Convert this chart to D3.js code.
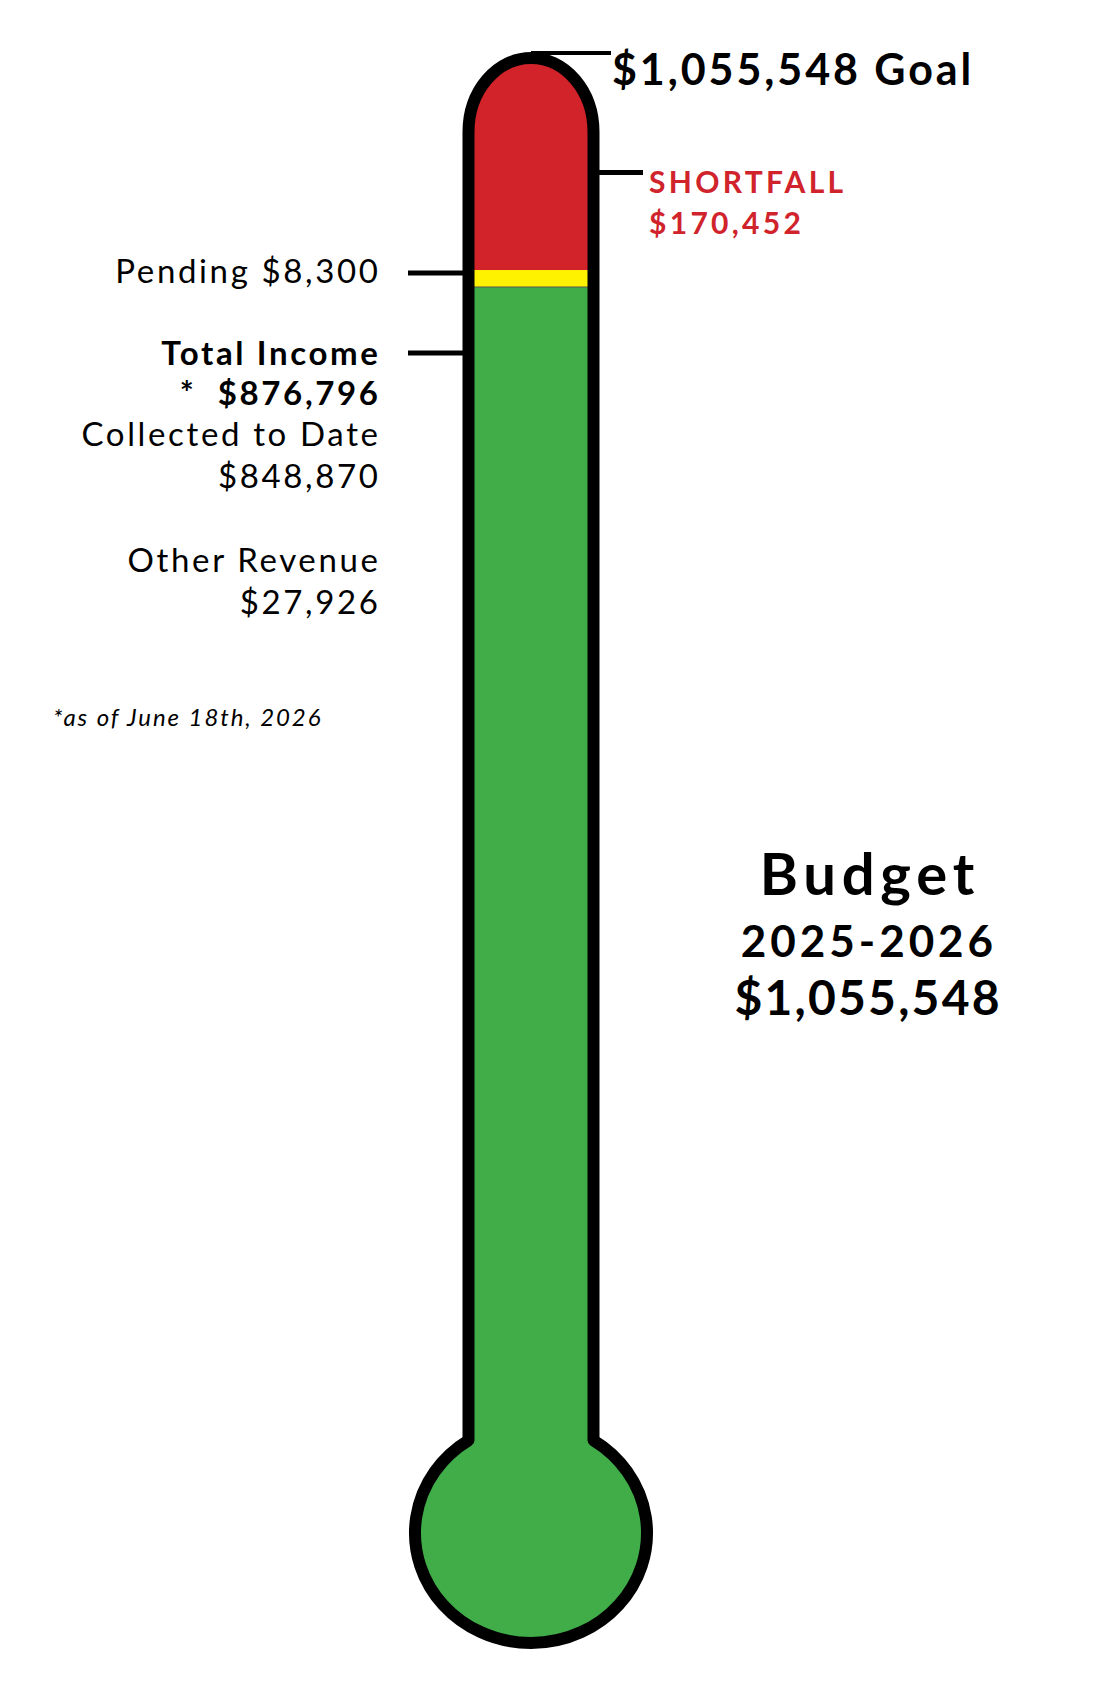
<!DOCTYPE html>
<html>
<head>
<meta charset="utf-8">
<script src="https://cdn.jsdelivr.net/npm/d3@7"></script>
<style>
  body { margin: 0; background: #fff; }
  text { font-family: Lato, "Noto Sans", sans-serif; fill: #000; }
</style>
</head>
<body>
<div id="chart"></div>
<script>
// budget figures
var goalAmount = 1055548;
var bandNames = ["Total Income", "Pending", "Shortfall"];
var bandValues = [876796, 8300, 170452];
var incomeNames = ["Collected to Date", "Other Revenue"];
var incomeValues = [848870, 27926];
var budgetYear = "2025-2026";
var asOfNote = "*as of June 18th, 2026";

var width = 1100, height = 1700;
var fmt = d3.format("$,");

var svg = d3.select('#chart')
  .append('svg')
    .attr('width', width)
    .attr('height', height);

// thermometer shape: tube with an oval cap, bulb at the bottom
var cx = 531, half = 62.5, stroke = 12;
var capTop = 58, capRy = 74;
var bulb = { cy: 1533, rx: 116, ry: 110 };
var joinY = bulb.cy - bulb.ry * Math.sqrt(1 - (half * half) / (bulb.rx * bulb.rx));
var bulbBottom = bulb.cy + bulb.ry;

var outline =
  "M" + (cx - half) + "," + joinY +
  "L" + (cx - half) + "," + (capTop + capRy) +
  "A" + half + "," + capRy + " 0 0 1 " + (cx + half) + "," + (capTop + capRy) +
  "L" + (cx + half) + "," + joinY +
  "A" + bulb.rx + "," + bulb.ry + " 0 1 1 " + (cx - half) + "," + joinY + "Z";

var y = d3.scaleLinear()
  .domain([0, goalAmount])
  .range([1345, capTop + stroke / 2 - 1]);

var color = d3.scaleOrdinal()
  .domain(bandNames)
  .range(["#41ad49", "#fff200", "#d2232a"]);

// stack the bands top-down, keep thin ones visible
var tops = d3.cumsum(bandValues);
var bands = bandNames.map(function (name, i) {
  return { name: name, value: bandValues[i], hi: tops[i], lo: tops[i] - bandValues[i] };
});
var minBand = 17;
var edge = y(goalAmount) - stroke;
for (var i = bands.length - 1; i >= 0; i--) {
  bands[i].top = edge;
  bands[i].bottom = i === 0 ? bulbBottom + stroke : Math.max(y(bands[i].lo), edge + minBand);
  edge = bands[i].bottom;
}

svg.append('defs')
  .append('clipPath')
    .attr('id', 'inside')
    .append('path')
      .attr('d', outline);

var fill = svg.append('g').attr('clip-path', 'url(#inside)');
fill.selectAll('rect.band')
  .data(bands)
  .enter()
    .append('rect')
      .classed('band', true)
      .attr('x', cx - bulb.rx - stroke)
      .attr('width', 2 * (bulb.rx + stroke))
      .attr('y', function (d) { return d.top; })
      .attr('height', function (d) { return d.bottom - d.top; })
      .style('fill', function (d) { return color(d.name); });

// thin seam under the pending band
fill.append('line')
  .attr('x1', cx - half).attr('x2', cx + half)
  .attr('y1', bands[1].bottom).attr('y2', bands[1].bottom)
  .style('stroke', '#555').style('stroke-width', 1.2);

// pointer lines
var pointers = [
  { x1: cx, x2: 611, y: 53, w: 4 },
  { x1: cx + half, x2: 643, y: 172.5, w: 5 },
  { x1: 408, x2: cx - half, y: bands[1].top + 3, w: 5 },
  { x1: 408, x2: cx - half, y: 353, w: 5 }
];
svg.selectAll('line.pointer')
  .data(pointers)
  .enter()
    .append('line')
      .classed('pointer', true)
      .attr('x1', function (d) { return d.x1; })
      .attr('x2', function (d) { return d.x2; })
      .attr('y1', function (d) { return d.y; })
      .attr('y2', function (d) { return d.y; })
      .style('stroke', '#000')
      .style('stroke-width', function (d) { return d.w; });

svg.append('path')
  .attr('d', outline)
  .style('fill', 'none')
  .style('stroke', '#000')
  .style('stroke-width', stroke)
  .style('stroke-linejoin', 'round');

// goal and shortfall labels
svg.append('text')
  .attr('x', 612).attr('y', 85)
  .style('font-size', '43px').style('font-weight', 700)
  .style('letter-spacing', '0.068em')
  .text(fmt(goalAmount) + " Goal");

var shortfall = svg.append('text')
  .style('font-size', '30px').style('font-weight', 700)
  .style('letter-spacing', '0.11em')
  .style('fill', '#d0232b');
shortfall.append('tspan').attr('x', 649).attr('y', 193)
  .style('fill', '#d0232b').text(bandNames[2].toUpperCase());
shortfall.append('tspan').attr('x', 649).attr('y', 234)
  .style('fill', '#d0232b').text(fmt(bandValues[2]));

// left column
var leftLines = [
  { t: bandNames[1] + " " + fmt(bandValues[1]), y: 283, b: 400 },
  { t: bandNames[0], y: 365, b: 700 },
  { t: "*\u00a0\u00a0" + fmt(bandValues[0]), y: 405, b: 700 },
  { t: incomeNames[0], y: 446, b: 400 },
  { t: fmt(incomeValues[0]), y: 488, b: 400 },
  { t: incomeNames[1], y: 572, b: 400 },
  { t: fmt(incomeValues[1]), y: 614, b: 400 }
];
svg.selectAll('text.left')
  .data(leftLines)
  .enter()
    .append('text')
      .classed('left', true)
      .attr('x', 380.6)
      .attr('y', function (d) { return d.y; })
      .attr('text-anchor', 'end')
      .style('font-size', '33px')
      .style('letter-spacing', '0.08em')
      .style('font-weight', function (d) { return d.b; })
      .text(function (d) { return d.t; });

svg.append('text')
  .attr('x', 53).attr('y', 726)
  .style('font-size', '24px').style('font-style', 'italic')
  .style('letter-spacing', '0.08em')
  .text(asOfNote);

// budget block on the right
var budgetLines = [
  { t: "Budget", y: 895, s: 58, ls: 0.1 },
  { t: budgetYear, y: 957, s: 44, ls: 0.09 },
  { t: fmt(goalAmount), y: 1015, s: 48, ls: 0.046 }
];
svg.selectAll('text.budget')
  .data(budgetLines)
  .enter()
    .append('text')
      .classed('budget', true)
      .attr('x', function (d) { return 867 + d.s * d.ls / 2; })
      .attr('y', function (d) { return d.y; })
      .attr('text-anchor', 'middle')
      .style('font-size', function (d) { return d.s + 'px'; })
      .style('letter-spacing', function (d) { return d.ls + 'em'; })
      .style('font-weight', 700)
      .text(function (d) { return d.t; });
</script>
</body>
</html>
